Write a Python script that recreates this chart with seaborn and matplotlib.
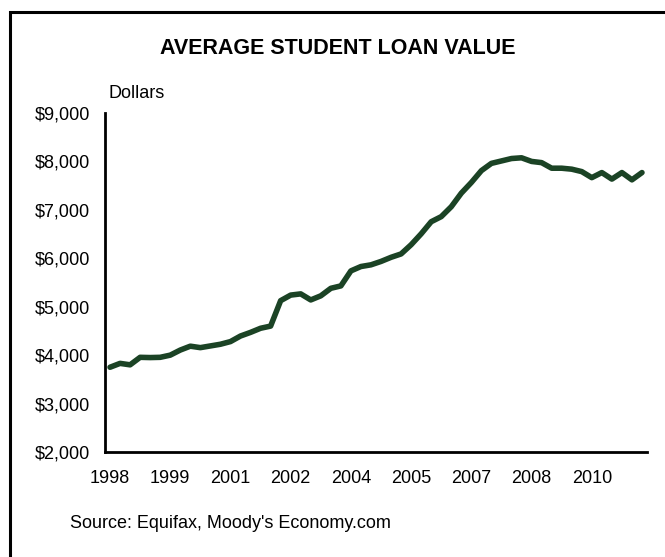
import numpy as np
import pandas as pd
import seaborn as sns
import matplotlib.pyplot as plt
from matplotlib.patches import Rectangle

# quarterly average student loan value, 1998Q1 - 2011Q2
quarters = [f"{y}Q{q}" for y in range(1998, 2012) for q in range(1, 5)][:54]
loan_value = [3750, 3830, 3800, 3955, 3950, 3955, 4000, 4105, 4185, 4155,
              4190, 4225, 4280, 4395, 4470, 4555, 4600, 5125, 5240, 5265,
              5140, 5225, 5380, 5430, 5740, 5830, 5865, 5935, 6020, 6090,
              6280, 6505, 6755, 6860, 7065, 7345, 7565, 7810, 7960, 8010,
              8060, 8075, 8000, 7975, 7860, 7860, 7840, 7790, 7665, 7770,
              7635, 7770, 7620, 7770]
tick_pos = [0, 6, 12, 18, 24, 30, 36, 42, 48]
tick_labels = ["1998", "1999", "2001", "2002", "2004", "2005", "2007", "2008", "2010"]
y_ticks = [2000, 3000, 4000, 5000, 6000, 7000, 8000, 9000]

df = pd.DataFrame({"quarter": quarters, "idx": np.arange(len(quarters)), "value": loan_value})

sns.set_style("white")
plt.rcParams['font.family'] = ['Liberation Sans', 'DejaVu Sans']
plt.rcParams['text.color'] = 'black'

fig = plt.figure(figsize=(6.65, 5.57), dpi=100)
ax = fig.add_axes([105 / 665, 1 - 452 / 557, 542 / 665, (452 - 113) / 557])

sns.lineplot(data=df, x="idx", y="value", ax=ax, color="#1b4325", linewidth=4.0,
             solid_capstyle="round", solid_joinstyle="round")

ax.set_xlim(-0.5, len(quarters) - 0.5)
ax.set_ylim(2000, 9000)
ax.set_xticks(tick_pos)
ax.set_xticklabels(tick_labels)
ax.set_yticks(y_ticks)
ax.set_yticklabels([f"${v:,.0f}" for v in y_ticks])
ax.tick_params(axis="both", length=0, labelsize=13, colors="black")
ax.tick_params(axis="y", pad=11)
ax.tick_params(axis="x", pad=13)
ax.set_xlabel("")
ax.set_ylabel("")
for s in ["top", "right"]:
    ax.spines[s].set_visible(False)
for s in ["left", "bottom"]:
    ax.spines[s].set_color("black")
    ax.spines[s].set_linewidth(2)

fig.text(338 / 665, 1 - 48 / 557, "AVERAGE STUDENT LOAN VALUE", ha="center", va="center",
         fontsize=15.5, fontweight="bold", color="black")
fig.text(109 / 665, 1 - 93 / 557, "Dollars", ha="left", va="center", fontsize=13,
         color="black")
fig.text(70 / 665, 1 - 524 / 557, "Source: Equifax, Moody's Economy.com", ha="left",
         va="center", fontsize=13, color="black")

# outer frame, runs off the right and bottom edges
fig.patches.append(Rectangle((10 / 665, -0.05), 1.0, 1 - 12 / 557 + 0.05,
                             transform=fig.transFigure, fill=False,
                             edgecolor="black", linewidth=2.2))

fig.savefig("out.png", dpi=100)
